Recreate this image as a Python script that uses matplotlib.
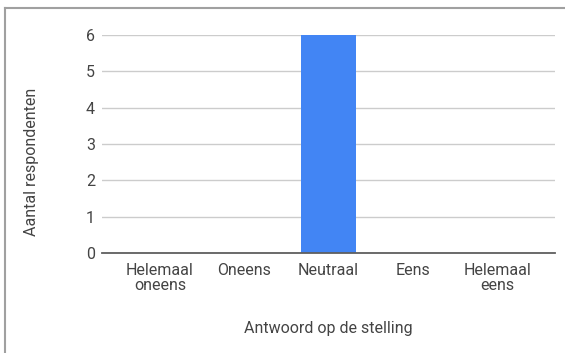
import matplotlib
matplotlib.use("Agg")
import matplotlib.pyplot as plt

categories = ["Helemaal\noneens", "Oneens", "Neutraal", "Eens", "Helemaal\neens"]
counts = [0, 0, 6, 0, 0]
y_ticks = [0, 1, 2, 3, 4, 5, 6]

plt.rcParams["font.family"] = ["Roboto", "DejaVu Sans"]
text_color = "#444444"

W, H = 565, 353
fig = plt.figure(figsize=(W / 100, H / 100), dpi=100)
fig.patch.set_facecolor("white")

# plot area in pixel coordinates
left, right, top, bottom = 102, 555, 35, 253
ax = fig.add_axes([left / W, 1 - bottom / H, (right - left) / W, (bottom - top) / H])

x = range(len(categories))
ax.bar(x, counts, width=0.65, color="#4285F4", zorder=3)

# categories sit slightly inset from the ends of the gridlines
ax.set_xlim(-0.687, len(categories) - 1 + 0.687)
ax.set_ylim(0, 6)
ax.set_yticks(y_ticks)
ax.set_yticklabels([str(v) for v in y_ticks])
ax.set_xticks(list(x))
ax.set_xticklabels(categories, linespacing=1.05)

for s in ["top", "right", "left"]:
    ax.spines[s].set_visible(False)
ax.spines["bottom"].set_color("#5f5f5f")
ax.spines["bottom"].set_linewidth(1.3)
ax.spines["bottom"].set_zorder(4)

ax.grid(axis="y", color="#cccccc", linewidth=1.0, zorder=0)
ax.tick_params(axis="y", length=0, pad=5, labelsize=11.5, labelcolor=text_color)
ax.tick_params(axis="x", length=0, pad=7, labelsize=11.5, labelcolor=text_color)

ax.set_xlabel("Antwoord op de stelling", fontsize=11.5, color=text_color, labelpad=20)
ax.set_ylabel("Aantal respondenten", fontsize=11.5, color=text_color)
ax.yaxis.set_label_coords((39 - left) / (right - left), (bottom - 162) / (bottom - top))

# outer frame (top and left edges)
fig.add_artist(plt.Line2D([5 / W, 1], [1 - 8 / H, 1 - 8 / H], color="#a0a0a0", linewidth=1.5,
                          transform=fig.transFigure))
fig.add_artist(plt.Line2D([5 / W, 5 / W], [0, 1 - 8 / H], color="#a0a0a0", linewidth=1.5,
                          transform=fig.transFigure))

fig.savefig("out.png", dpi=100, facecolor="white")
